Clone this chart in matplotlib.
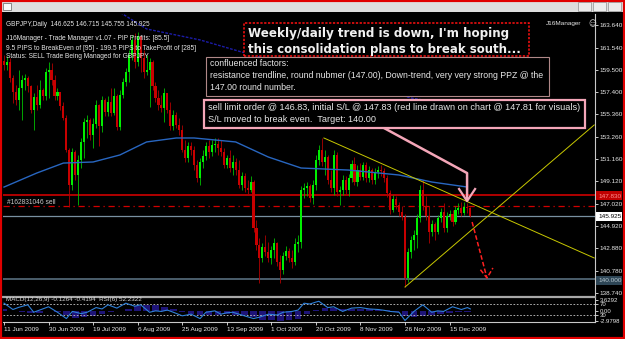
import numpy as np
import matplotlib.pyplot as plt
from matplotlib.patches import Rectangle

W, H = 625, 339

# daily GBPJPY bars, 11 Jun 2009 .. 18 Dec 2009
first_open = 160.30
closes = [
    159.92, 160.20, 158.71, 157.41, 156.67, 157.78, 158.53, 158.71, 157.97, 155.74,
    156.95, 156.20, 157.60, 157.04, 159.27, 159.46, 158.53, 157.04, 157.41, 156.11,
    155.00, 152.02, 148.77, 151.83, 149.70, 151.09, 152.77, 154.62, 154.81, 153.42,
    154.44, 156.20, 154.25, 156.67, 155.55, 156.48, 155.46, 157.04, 154.16, 157.13,
    158.34, 159.27, 160.85, 162.25, 160.20, 162.62, 160.57, 159.27, 159.46, 160.20,
    157.97, 156.86, 156.20, 155.93, 157.32, 155.74, 154.25, 155.28, 154.35, 153.88,
    152.02, 151.28, 152.39, 152.02, 150.63, 149.42, 150.91, 151.46, 152.39, 151.83,
    152.49, 152.58, 152.21, 151.83, 150.63, 151.28, 150.35, 150.91, 150.16, 148.77,
    149.61, 148.49, 148.31, 149.05, 144.78, 143.20, 141.99, 143.01, 142.54, 141.99,
    142.73, 143.38, 141.61, 140.87, 142.17, 142.63, 141.99, 141.61, 143.29, 143.47,
    148.31, 148.49, 148.68, 147.56, 148.77, 151.09, 152.02, 150.91, 151.37, 149.23,
    148.49, 151.56, 148.12, 148.31, 149.23, 148.31, 149.42, 150.72, 149.05, 150.16,
    149.51, 150.63, 149.42, 150.16, 149.23, 149.98, 150.16, 150.07, 149.42, 148.03,
    146.45, 147.47, 146.91, 146.26, 145.80, 140.13, 142.54, 143.66, 144.13, 145.71,
    148.31, 146.82, 145.89, 144.40, 145.15, 144.40, 145.71, 146.26, 144.78, 145.89,
    146.08, 145.33, 146.45, 146.63, 146.17, 146.73, 146.625, 145.925,
]
highs = [
    160.85, 160.76, 160.57, 158.99, 158.06, 159.46, 158.99, 159.09, 158.90, 158.06,
    157.32, 158.06, 158.53, 157.78, 159.64, 160.20, 160.11, 158.99, 157.78, 157.41,
    156.48, 155.28, 152.21, 152.21, 152.02, 151.56, 153.14, 155.00, 155.28, 155.00,
    155.00, 156.67, 156.30, 157.04, 156.86, 157.04, 157.78, 157.78, 157.23, 157.60,
    158.71, 159.64, 161.32, 162.71, 162.90, 162.99, 162.25, 161.32, 160.85, 160.57,
    160.39, 158.34, 157.60, 157.13, 157.78, 157.04, 156.48, 155.74, 155.55, 155.00,
    154.35, 152.95, 152.77, 152.77, 152.39, 151.09, 151.28, 152.02, 152.77, 152.95,
    152.95, 153.14, 153.14, 152.95, 152.21, 151.56, 152.02, 151.56, 151.28, 151.09,
    149.98, 149.88, 149.23, 149.61, 149.23, 145.52, 143.85, 143.38, 144.13, 143.47,
    143.10, 143.85, 143.47, 142.26, 142.54, 143.10, 142.92, 142.73, 143.85, 144.13,
    148.68, 148.95, 149.05, 148.86, 149.23, 151.56, 152.49, 153.14, 152.02, 151.56,
    150.16, 152.02, 151.83, 148.68, 149.70, 149.61, 149.79, 151.09, 151.37, 150.63,
    150.81, 150.91, 150.91, 150.53, 150.35, 150.35, 150.53, 150.63, 150.35, 149.70,
    148.31, 147.84, 147.75, 147.19, 146.82, 146.08, 142.92, 144.03, 144.59, 146.08,
    148.77, 149.23, 147.75, 146.82, 145.52, 145.33, 145.98, 146.63, 147.10, 146.26,
    146.45, 146.45, 146.82, 147.10, 147.19, 147.19, 147.10, 146.715,
]
lows = [
    159.46, 159.46, 158.34, 156.39, 156.20, 155.74, 154.81, 157.60, 157.41, 155.46,
    153.88, 155.74, 155.93, 156.67, 156.67, 156.86, 158.06, 156.67, 156.67, 155.74,
    154.81, 151.83, 146.73, 148.31, 149.23, 146.91, 150.35, 151.28, 153.14, 152.95,
    152.21, 154.07, 152.39, 153.70, 155.18, 155.18, 155.18, 155.28, 153.88, 153.88,
    156.86, 157.97, 158.34, 160.39, 159.64, 159.83, 159.27, 158.71, 158.99, 156.02,
    157.60, 156.48, 155.74, 155.55, 154.62, 155.46, 153.88, 153.88, 154.07, 153.42,
    151.83, 150.91, 150.91, 151.56, 150.16, 149.05, 148.77, 150.35, 151.09, 151.28,
    151.46, 151.83, 151.56, 151.46, 150.35, 150.35, 149.98, 149.70, 149.70, 148.49,
    148.31, 148.12, 147.93, 148.12, 144.40, 142.73, 139.67, 141.61, 142.17, 141.61,
    141.43, 141.99, 141.24, 139.67, 140.50, 141.80, 141.61, 141.06, 141.33, 142.54,
    142.92, 147.56, 147.75, 147.19, 147.01, 148.31, 150.63, 150.53, 149.70, 148.86,
    148.12, 147.84, 147.75, 146.91, 147.84, 147.93, 147.75, 149.05, 148.77, 148.68,
    149.23, 149.23, 149.05, 149.05, 148.86, 148.86, 149.42, 149.61, 149.05, 147.65,
    146.08, 146.26, 146.54, 145.89, 145.52, 139.29, 139.76, 141.99, 142.73, 142.92,
    145.33, 146.45, 145.52, 143.38, 144.03, 143.66, 144.22, 145.33, 144.40, 144.40,
    145.52, 144.96, 145.15, 146.08, 145.89, 145.98, 146.17, 145.755,
]

date_bars = [0, 15, 30, 45, 60, 75, 90, 105, 120, 135, 150]
date_labels = ["11 Jun 2009", "30 Jun 2009", "19 Jul 2009", "6 Aug 2009", "25 Aug 2009",
               "13 Sep 2009", "1 Oct 2009", "20 Oct 2009", "8 Nov 2009", "26 Nov 2009",
               "15 Dec 2009"]
price_ticks = [163.640, 161.540, 159.500, 157.400, 155.360, 153.260, 151.160,
               149.120, 147.020, 144.920, 142.880, 140.780, 138.740]

# moving averages (knots)
ma_bars = [0, 11, 20, 30, 39, 48, 58, 64, 78, 89, 100, 116, 133, 144, 156]
ma_vals = [148.58, 149.88, 150.81, 150.91, 151.56, 152.77, 153.14, 153.14,
           152.77, 151.37, 150.35, 150.16, 149.70, 149.05, 148.58]
ma2_bars = [38, 48, 66, 80, 137, 147, 157]
ma2_vals = [165.0, 163.27, 162.25, 161.13, 156.86, 156.39, 155.83]

sl_price = 147.83
entry_price = 146.83
bid_price = 145.925
target_price = 140.00

down_bars = [107.7, 198.7]
down_vals = [153.14, 141.99]
up_bars = [135, 198.7]
up_vals = [139.29, 154.35]

pink_bars = [127.3, 155.9, 155.9]
pink_vals = [154.16, 149.88, 147.45]
pink_head_bars = [153.2, 155.9, 158.6]
pink_head_vals = [148.40, 147.28, 148.40]
red_bars = [157.6, 162.6]
red_vals = [145.33, 140.13]
red_head_bars = [160.4, 162.6, 164.6]
red_head_vals = [140.90, 140.13, 141.06]

rsi_bars = [0, 3, 5, 8, 10, 13, 15, 18, 21, 23, 26, 28, 31, 33, 35, 38, 41, 44, 46, 49,
            51, 53, 55, 57, 60, 63, 66, 68, 71, 73, 75, 77, 80, 84, 86, 89, 92, 94, 97,
            99, 101, 103, 105, 106, 109, 111, 114, 117, 120, 123, 126, 128, 130, 133,
            135, 138, 141, 144, 146, 148, 151, 154, 156, 157]
rsi_vals = [73, 50, 58, 67, 40, 52, 60, 40, 17, 43, 35, 40, 57, 52, 67, 55, 73, 62, 67, 40,
            45, 43, 48, 40, 27, 33, 17, 40, 45, 33, 38, 40, 30, 17, 22, 33, 30, 40, 43,
            48, 73, 70, 77, 80, 57, 60, 43, 55, 57, 52, 50, 47, 43, 40,
            10, 43, 67, 40, 45, 43, 60, 50, 57, 52]
macd_bars = list(range(0, 157, 3))
macd_vals = [0.8, 0.2, -0.1, -0.6, -0.5, 0.1, -0.1, -1.2, -2.2, -1.9,
             -1.4, -0.7, -0.3, 0.1, 0.9, 1.8, 2.2, 1.9, 1.3, 0.7,
             -0.1, -0.8, -1.3, -1.2, -1.0, -0.9, -1.0, -1.3, -1.9, -2.7,
             -2.9, -3.0, -2.8, -2.4, -0.9, 0.3, 1.0, 1.1, 0.9, 0.9,
             0.8, 0.7, 0.6, 0.3, -0.3, -1.5, -1.9, -1.4, -1.1, -0.8,
             -0.5, -0.3, -0.13]

SMALL = "Liberation Sans"


def fx(x):
    return x / W


def fy(y):
    return 1 - y / H


def box(fig, x0, y0, x1, y1, ec, lw, ls="-"):
    fig.add_artist(Rectangle((fx(x0), fy(y1)), (x1 - x0) / W, (y1 - y0) / H,
                             transform=fig.transFigure, facecolor="black",
                             edgecolor=ec, linewidth=lw, linestyle=ls, zorder=5))


def ftext(fig, x, y, s, **kw):
    kw.setdefault("color", "#e6e6e6")
    kw.setdefault("fontsize", 5.3)
    kw.setdefault("family", SMALL)
    fig.text(fx(x), fy(y), s, va="center", ha=kw.pop("ha", "left"), zorder=6, **kw)


def main():
    fig = plt.figure(figsize=(W / 100, H / 100), dpi=100, facecolor="black")

    xlim = (-0.34, 198.97)
    ax = fig.add_axes([fx(3), fy(295), 592 / W, 281 / H])
    ax.set_facecolor("black")
    ax.set_xlim(*xlim)
    ax.set_ylim(138.55, 164.66)

    idx = np.arange(len(closes))
    c = np.array(closes)
    o = np.r_[first_open, c[:-1]]
    hi = np.maximum(np.array(highs), np.maximum(o, c))
    lo = np.minimum(np.array(lows), np.minimum(o, c))
    up = c >= o
    wick_cols = np.where(up, "#00c000", "#b00000")
    body_cols = np.where(up, "#00f000", "#c80000")

    ax.plot(ma2_bars, ma2_vals, color="#1c1ca8", lw=1.0, ls=(0, (2, 1)), zorder=1)
    ax.vlines(idx, lo, hi, colors=wick_cols, lw=0.6, zorder=2)
    ax.bar(idx, c - o, bottom=o, width=0.7, color=body_cols, linewidth=0, zorder=3)
    ax.plot(ma_bars, ma_vals, color="#2866c0", lw=1.0, zorder=4)

    ax.axhline(sl_price, color="#e00000", lw=1.1, zorder=1)
    ax.axhline(entry_price, color="#d00000", lw=0.9, ls=(0, (5, 3, 1, 3)), zorder=1)
    ax.axhline(bid_price, color="#7890a0", lw=0.9, zorder=1)
    ax.axhline(target_price, color="#5f7888", lw=1.1, zorder=1)
    ax.text(1, 147.12, "#162831046 sell", color="#c8c8c8", fontsize=4.8,
            family=SMALL, va="center", zorder=5)

    ax.plot(down_bars, down_vals, color="#c8c800", lw=0.7, zorder=5)
    ax.plot(up_bars, up_vals, color="#c8c800", lw=0.7, zorder=5)

    ax.plot(pink_bars, pink_vals, color="#f4a6b8", lw=1.8, zorder=6,
            solid_capstyle="butt")
    ax.plot(pink_head_bars, pink_head_vals, color="#f4a6b8", lw=1.6, zorder=6)
    ax.plot(red_bars, red_vals, color="#ff2020", lw=1.1, ls=(0, (3, 1.5)), zorder=6)
    ax.plot(red_head_bars, red_head_vals, color="#ff2020", lw=1.1,
            ls=(0, (3, 1.5)), zorder=6)

    for s in ["left", "top", "bottom"]:
        ax.spines[s].set_visible(False)
    ax.spines["right"].set_color("#c8c8c8")
    ax.spines["right"].set_linewidth(0.8)
    ax.set_xticks([])
    ax.yaxis.tick_right()
    ax.set_yticks(price_ticks)
    ax.set_yticklabels([f"{p:.3f}" for p in price_ticks])
    ax.tick_params(axis="y", colors="#e8e8e8", length=2, width=0.6, pad=1.5,
                   labelsize=4.6)
    for lab in ax.get_yticklabels():
        lab.set_family(SMALL)

    # indicator window
    ax2 = fig.add_axes([fx(3), fy(322), 592 / W, 25 / H])
    ax2.set_facecolor("black")
    ax2.set_xlim(*xlim)
    ax2.set_ylim(4.5, 95.5)
    ax3 = ax2.twinx()
    ax3.set_ylim(-3.4, 4.6)
    ax3.bar(macd_bars, macd_vals, width=2.2, color="#1e1478", linewidth=0, zorder=1)
    ax2.set_zorder(ax3.get_zorder() + 1)
    ax2.patch.set_visible(False)
    ax3.set_facecolor("black")
    ax2.axhline(70, color="#c8c8c8", lw=0.6, ls=(0, (2, 2)))
    ax2.axhline(30, color="#c8c8c8", lw=0.6, ls=(0, (2, 2)))
    ax2.plot(rsi_bars, rsi_vals, color="#2f80d8", lw=0.8)
    ax2.text(0.6, 86, "MACD(12,26,9) -0.1264 -0.4194  RSI(6) 52.2322",
             color="#d8d8d8", fontsize=4.5, family=SMALL, va="center")

    for a in (ax2, ax3):
        for s in ["left", "top", "bottom", "right"]:
            a.spines[s].set_visible(False)
    ax3.spines["right"].set_visible(True)
    ax3.spines["right"].set_color("#c8c8c8")
    ax3.spines["bottom"].set_visible(True)
    ax3.spines["bottom"].set_color("#c8c8c8")
    ax3.spines["top"].set_visible(True)
    ax3.spines["top"].set_color("#a8a8a8")
    ax3.spines["top"].set_linewidth(1.6)

    ax2.yaxis.tick_right()
    ax2.set_yticks([70, 30])
    ax2.set_yticklabels(["70", "30"])
    ax3.set_yticks([3.6292, 0.0, -2.9798])
    ax3.set_yticklabels(["3.6292", "0.00", "-2.9798"])
    for a in (ax2, ax3):
        a.tick_params(axis="y", colors="#e8e8e8", length=2, width=0.6, pad=1.5,
                      labelsize=4.3)
        for lab in a.get_yticklabels():
            lab.set_family(SMALL)
    ax3.set_xticks([])
    ax2.set_xticks(date_bars)
    ax2.set_xticklabels(date_labels, ha="left")
    ax2.tick_params(axis="x", colors="#e8e8e8", length=2.5, width=0.6, pad=1.2,
                    labelsize=4.6)
    for lab in ax2.get_xticklabels():
        lab.set_family(SMALL)

    # price labels on the right scale
    for y, text, fc, tc in [(196, "147.830", "#c00000", "#ff9090"),
                            (216, "145.925", "#ffffff", "#000000"),
                            (280, "140.000", "#2e4656", "#b8c8d0")]:
        fig.add_artist(Rectangle((fx(596), fy(y + 4.5)), 26 / W, 9 / H,
                                 transform=fig.transFigure, facecolor=fc,
                                 edgecolor="none", zorder=5))
        ftext(fig, 598, y, text, color=tc, fontsize=4.6)

    # header texts
    ftext(fig, 6, 24, "GBPJPY,Daily  146.625 146.715 145.755 145.925", fontsize=4.7)
    ftext(fig, 6, 38, "J16Manager - Trade Manager v1.07 - PIP Profits: [85.5]",
          fontsize=4.8)
    ftext(fig, 6, 48, "9.5 PIPS to BreakEven of [95] - 199.5 PIPS to TakeProfit of [285]",
          fontsize=4.8)
    ftext(fig, 6, 57, "Status: SELL Trade Being Managed for GBPJPY", fontsize=4.8)
    ftext(fig, 546, 24, "J16Manager", fontsize=4.6)
    ftext(fig, 588, 24, "\u263a", fontsize=5.5, family="DejaVu Sans")

    # annotation boxes
    box(fig, 244, 23, 529, 56, "#ff1010", 1.1, (0, (1.5, 1)))
    ftext(fig, 248, 34, "Weekly/daily trend is down, I'm hoping", fontsize=8.6,
          family="DejaVu Sans", weight="bold", color="#f0f0f0")
    ftext(fig, 248, 49, "this consolidation plans to break south...", fontsize=8.5,
          family="DejaVu Sans", weight="bold", color="#f0f0f0")

    box(fig, 206, 57, 549, 96, "#b08888", 0.8)
    ftext(fig, 210, 64, "confluenced factors:", fontsize=6.3)
    ftext(fig, 210, 76, "resistance trendline, round nubmer (147.00), Down-trend, "
                        "very very strong PPZ @ the", fontsize=6.3)
    ftext(fig, 210, 88, "147.00 round number.", fontsize=6.3)

    box(fig, 204, 100, 585, 128, "#f4a6b8", 1.6)
    ftext(fig, 208, 107, "sell limit order @ 146.83, initial S/L @ 147.83 (red line drawn "
                         "on chart @ 147.81 for visuals)", fontsize=6.6)
    ftext(fig, 208, 120, "S/L moved to break even.  Target: 140.00", fontsize=6.6)

    # window title bar and frame
    fig.add_artist(Rectangle((0, fy(12)), 1, 12 / H, transform=fig.transFigure,
                             facecolor="#dedede", edgecolor="none", zorder=7))
    fig.add_artist(Rectangle((fx(3), fy(10)), 8 / W, 7 / H, transform=fig.transFigure,
                             facecolor="#f8f8f8", edgecolor="#606060", lw=0.5, zorder=8))
    ftext(fig, 16, 6.5, "GBPJPY,Daily", fontsize=6, color="#707070", weight="bold")
    for bx in (578, 593, 608):
        fig.add_artist(Rectangle((fx(bx), fy(11)), 13 / W, 9 / H,
                                 transform=fig.transFigure, facecolor="#ececec",
                                 edgecolor="#909090", lw=0.5, zorder=8))
    fig.add_artist(Rectangle((0, 0), 1, 1, transform=fig.transFigure, fill=False,
                             edgecolor="#e00000", lw=3, zorder=9))

    fig.savefig("out.png", dpi=100, facecolor="black")
    plt.close(fig)


if __name__ == "__main__":
    main()
